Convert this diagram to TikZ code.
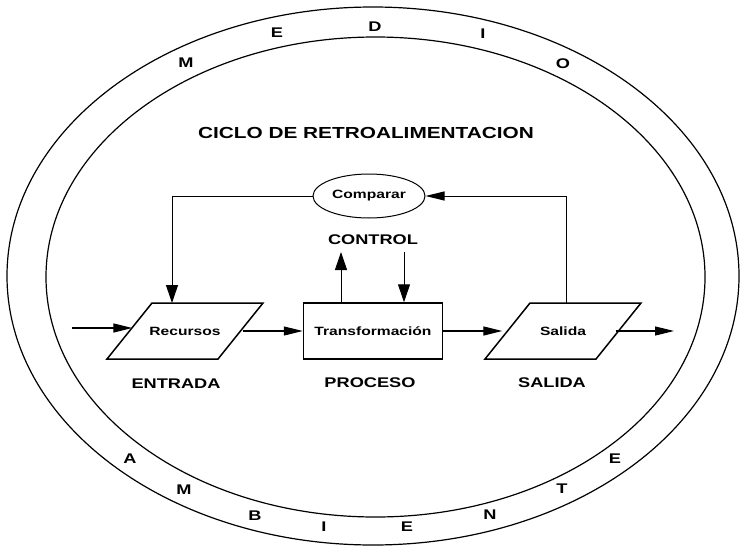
\documentclass[tikz,border=0pt]{standalone}
\usepackage{fontspec}
\setmainfont[FakeStretch=1.3]{Liberation Sans}
\usetikzlibrary{shapes.geometric,arrows.meta}
\tikzset{
  harr/.style={-{Triangle[length=19pt,width=9pt]},line width=1.2pt},
  varr/.style={-{Triangle[length=18pt,width=12pt]},line width=1pt},
  para/.style={minimum width=111pt,minimum height=56pt,inner sep=0pt,font=\fontsize{12}{14}\selectfont\bfseries},
  lbl/.style={font=\fontsize{14}{16}\selectfont\bfseries},
}

\begin{document}
\begin{tikzpicture}[x=1pt,y=-1pt,font=\bfseries]
  \useasboundingbox (0,0) rectangle (741,546);
  \draw[line width=1.2pt] (373,276) ellipse [x radius=366,y radius=269];
  \draw[line width=1.2pt] (375.5,277) ellipse [x radius=329.5,y radius=240];
  \foreach \x/\y/\l [count=\i] in {186/63/M,277/33/E,375/27/D,483/34/I,563/64/O,
      130/459/A,184/490/M,255/516/B,324/527/I,407/527/E,490/515/N,562/489/T,615/459/E}
    \node[font=\fontsize{14}{16}\selectfont\bfseries] (ring\i) at (\x,\y) {\l};
  \node[font=\fontsize{16}{18}\selectfont\bfseries] (titulo) at (366,133) {CICLO DE RETROALIMENTACION};

  \node[draw,ellipse,line width=1pt,minimum width=112pt,minimum height=44pt,inner sep=0pt,
    font=\fontsize{12}{14}\selectfont\bfseries] (cmp) at (369,196) {Comparar};
  \node[lbl] (control) at (373,240) {CONTROL};

  \node[para] (rec) at (185,331) {Recursos};
  \node[para] (sal) at (563,331) {Salida};
  \foreach \n in {rec,sal}
    \draw[line width=1.5pt,shift={(\n.center)}] (-33,-28) -- (78,-28) -- (33,28) -- (-78,28) -- cycle;
  \node[draw,line width=1.5pt,minimum width=139pt,minimum height=56pt,inner sep=0pt,
    font=\fontsize{12}{14}\selectfont\bfseries] (tra) at (373,331) {Transformación};

  \node[lbl] (entrada) at (176,384) {ENTRADA};
  \node[lbl] (proceso) at (370,383) {PROCESO};
  \node[lbl] (salida) at (552,383) {SALIDA};

  \coordinate (in) at (72,328);
  \coordinate (out) at (674,333);
  \coordinate (cu) at (341,252);
  \coordinate (cd) at (404,252);
  \draw[harr,shorten >=-3pt] (in) -- (in -| rec.west);
  \draw[harr,shorten <=2pt] (rec.east) -- (tra.west);
  \draw[harr,shorten >=5pt] (tra.east) -- (sal.west);
  \draw[harr,shorten <=-3pt] (sal.east) -- (sal.east -| out);
  \draw[varr] (cmp.west) -| ([xshift=-13pt,yshift=28pt]rec.center);
  \draw[harr,line width=1pt] ([xshift=3pt,yshift=28pt]sal.center) |- (cmp.east);
  \draw[varr] (tra.north -| cu) -- (cu);
  \draw[varr] (cd) -- (tra.north -| cd);
\end{tikzpicture}
\end{document}
